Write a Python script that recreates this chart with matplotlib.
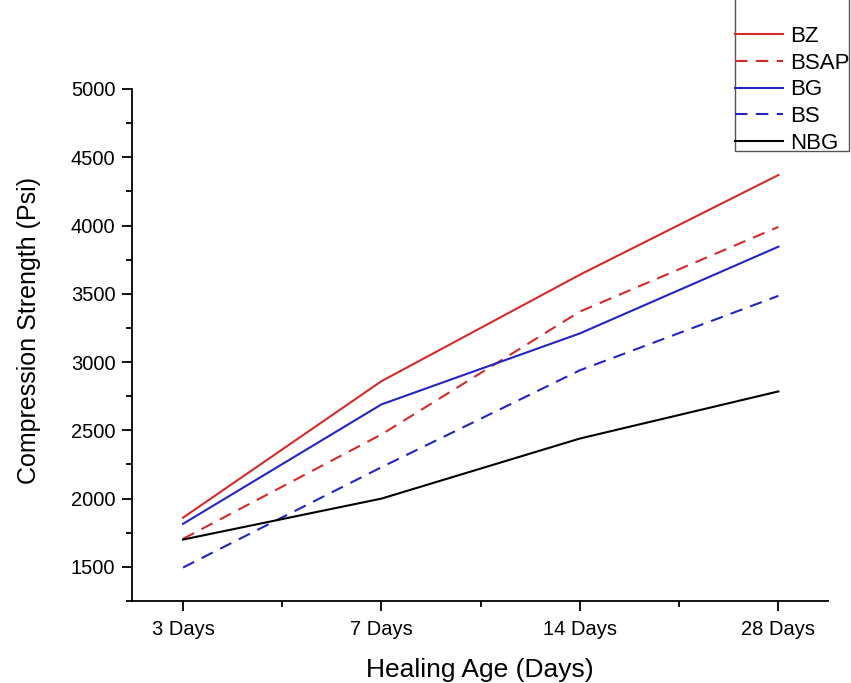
import numpy as np
import matplotlib.pyplot as plt
from matplotlib.patches import Rectangle
from matplotlib.ticker import MultipleLocator

plt.rcParams['font.family'] = ['Liberation Sans', 'DejaVu Sans']

# Compression strength (Psi)
ages = ['3 Days', '7 Days', '14 Days', '28 Days']
bz = [1860, 2860, 3640, 4370]
bsap = [1705, 2470, 3370, 3990]
bg = [1815, 2690, 3210, 3845]
bs = [1495, 2230, 2940, 3485]
nbg = [1700, 2000, 2440, 2785]

red = '#d42a2a'
blue = '#2424c4'

fig = plt.figure(figsize=(8.51, 6.83), dpi=100)
ax = fig.add_axes([132 / 851, 1 - 601 / 683, (828 - 132) / 851, (601 - 89) / 683])

x = np.arange(len(ages))
dash = (0, (6, 4))
ax.plot(x, bz, color=red, lw=1.5, label='BZ')
ax.plot(x, bsap, color=red, lw=1.5, ls=dash, label='BSAP')
ax.plot(x, bg, color=blue, lw=1.5, label='BG')
ax.plot(x, bs, color=blue, lw=1.5, ls=dash, label='BS')
ax.plot(x, nbg, color='black', lw=1.5, label='NBG')

ax.set_xlim(-0.257, 3.25)
ax.set_ylim(1250, 5000)
ax.set_xticks(x)
ax.set_xticklabels(ages)
ax.xaxis.set_minor_locator(MultipleLocator(0.5))
ax.yaxis.set_minor_locator(MultipleLocator(250))
ax.set_yticks([1500, 2000, 2500, 3000, 3500, 4000, 4500, 5000])

for side in ['top', 'right']:
    ax.spines[side].set_visible(False)
for side in ['left', 'bottom']:
    ax.spines[side].set_linewidth(1.3)

ax.tick_params(which='major', direction='out', length=7, width=1.3, labelsize=14.5)
ax.tick_params(which='minor', direction='out', length=4, width=1.3)
ax.tick_params(axis='y', pad=5)
ax.tick_params(axis='x', pad=7)

ax.set_xlabel('Healing Age (Days)', fontsize=19, labelpad=13)
ax.set_ylabel('Compression Strength (Psi)', fontsize=18)
ax.yaxis.set_label_coords(-0.131, 0.529)

# legend sits outside the axes at the top right, frame cut by the figure edge
fig.legend(loc='lower left', bbox_to_anchor=(735 / 851, 1 - 154 / 683),
           frameon=False, fontsize=16, borderpad=0.0, handlelength=2.15,
           handletextpad=0.32, labelspacing=0.26, borderaxespad=0)
fig.patches.append(Rectangle((735 / 851, 1 - 151 / 683), (849 - 735) / 851, 0.3,
                             transform=fig.transFigure, fill=False,
                             edgecolor='#555555', lw=1.0))

plt.savefig('out.png', dpi=100)
